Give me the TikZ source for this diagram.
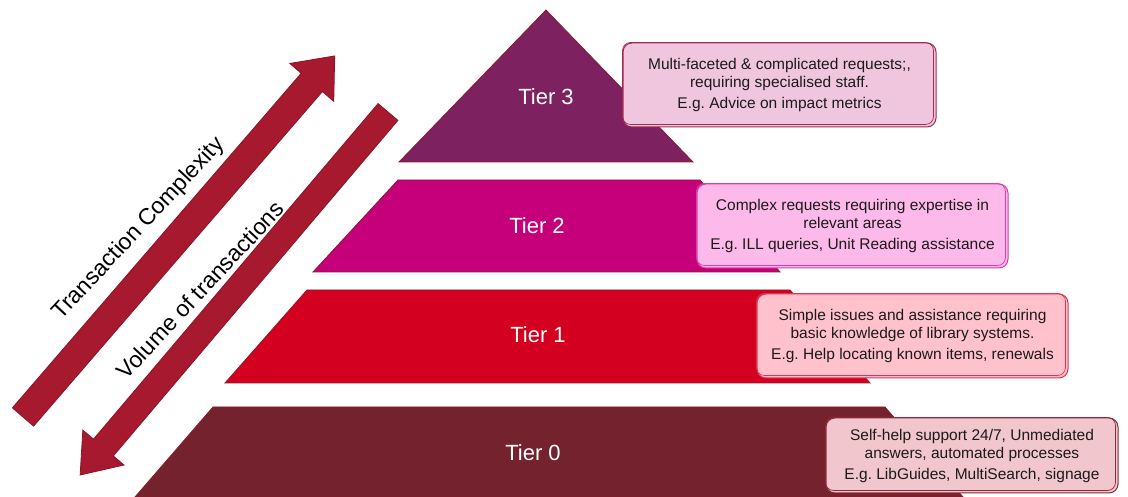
\documentclass[tikz,border=0pt]{standalone}
\usepackage{fontspec}
\setmainfont{Liberation Sans}
\usetikzlibrary{calc}
\frenchspacing
\definecolor{tierthree}{HTML}{7E2160}
\definecolor{tiertwo}{HTML}{C5007A}
\definecolor{tierone}{HTML}{D3001F}
\definecolor{tierzero}{HTML}{74222D}
\definecolor{tieredge}{HTML}{8A1A2C}
\definecolor{arrowred}{HTML}{A6192E}
\definecolor{arrowedge}{HTML}{8A1528}
\definecolor{boxthreefill}{HTML}{F0C6DF}
\definecolor{boxthreeedge}{HTML}{A02C52}
\definecolor{boxtwofill}{HTML}{FDB9E9}
\definecolor{boxtwoedge}{HTML}{E03CA8}
\definecolor{boxonefill}{HTML}{FFC2CC}
\definecolor{boxoneedge}{HTML}{E0334F}
\definecolor{boxzerofill}{HTML}{F1C6CD}
\definecolor{boxzeroedge}{HTML}{8C2A38}
\definecolor{boxtext}{HTML}{1A1A1A}
\tikzset{
  tier/.style={draw=tieredge, line width=0.8pt, line join=miter},
  tierlabel/.style={text=white, font=\fontsize{22}{26}\selectfont, inner sep=0pt},
  blockarrow/.style={fill=arrowred, draw=arrowedge, line width=0.8pt},
  arrowlabel/.style={text=black, font=\fontsize{23}{27}\selectfont, inner sep=0pt, rotate=47},
  infobox/.style={rounded corners=9pt, line width=1pt, text=boxtext,
    font=\fontsize{15.5}{18}\selectfont, align=center, inner sep=0pt},
}
\newcommand{\egline}[1]{\\[3pt] #1}
\begin{document}
\begin{tikzpicture}[x=1pt, y=1pt]
\useasboundingbox (0,0) rectangle (1128,497);

% pyramid tiers
\filldraw[tier, fill=tierthree] (546,487) -- (693,335) -- (399,335) -- cycle;
\filldraw[tier, fill=tiertwo] (398,317) -- (700,317) -- (780,225) -- (313,225) -- cycle;
\filldraw[tier, fill=tierone] (307,207) -- (790,207) -- (870,114) -- (225,114) -- cycle;
\filldraw[tier, fill=tierzero] (213,90) -- (885,90) -- (963,0) -- (135,0) -- cycle;

\node[tierlabel] (t3) at (546,400) {Tier 3};
\node[tierlabel] (t2) at (537,271) {Tier 2};
\node[tierlabel] (t1) at (538,162) {Tier 1};
\node[tierlabel] (t0) at (533,44) {Tier 0};

% complexity arrow pointing up to the right
\begin{scope}[shift={(23,80)}, rotate=49.2]
  \filldraw[blockarrow] (0,-14) -- (442,-14) -- (442,-29) -- (477,0)
    -- (442,29) -- (442,14) -- (0,14) -- cycle;
\end{scope}
% volume arrow pointing down to the left
\begin{scope}[shift={(388,385)}, rotate=229.7]
  \filldraw[blockarrow] (0,-13) -- (440,-13) -- (440,-27) -- (476,0)
    -- (440,27) -- (440,13) -- (0,13) -- cycle;
\end{scope}

\node[arrowlabel] (complexity) at (139,268) {Transaction Complexity};
\node[arrowlabel] (volume) at (200,207) {Volume of transactions};

% description boxes
\node[infobox, fill=boxthreefill, draw=boxthreeedge,
      minimum width=313pt, minimum height=84pt] (b3) at (779.5,412)
  {Multi-faceted \& complicated requests;,\\ requiring specialised staff.\egline{E.g. Advice on impact metrics}};
\draw[rounded corners=8pt, draw=boxthreeedge, line width=0.7pt]
  (b3.north west) rectangle ($(b3.south east)+(-3,3)$);

\node[infobox, fill=boxtwofill, draw=boxtwoedge,
      minimum width=311pt, minimum height=84pt] (b2) at (852.5,271)
  {Complex requests requiring expertise in\\ relevant areas\egline{E.g. ILL queries, Unit Reading assistance}};
\draw[rounded corners=8pt, draw=boxtwoedge, line width=0.7pt]
  (b2.north west) rectangle ($(b2.south east)+(-3,3)$);

\node[infobox, fill=boxonefill, draw=boxoneedge,
      minimum width=311pt, minimum height=84pt] (b1) at (912.5,161)
  {Simple issues and assistance requiring\\ basic knowledge of library systems.\egline{E.g. Help locating known items, renewals}};
\draw[rounded corners=8pt, draw=boxoneedge, line width=0.7pt]
  (b1.north west) rectangle ($(b1.south east)+(-3,3)$);

\node[infobox, fill=boxzerofill, draw=boxzeroedge,
      minimum width=292pt, minimum height=75pt] (b0) at (972,41.5)
  {Self-help support 24/7, Unmediated\\ answers, automated processes\egline{E.g. LibGuides, MultiSearch, signage}};
\draw[rounded corners=8pt, draw=boxzeroedge, line width=0.7pt]
  (b0.north west) rectangle ($(b0.south east)+(-3,3)$);
\end{tikzpicture}
\end{document}
